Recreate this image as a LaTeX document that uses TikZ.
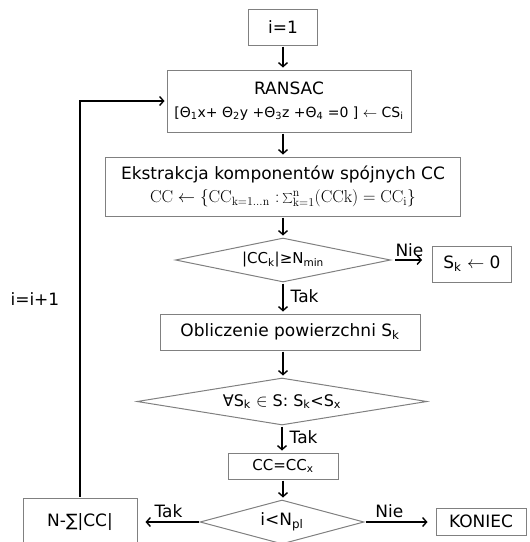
\documentclass[tikz,border=0pt]{standalone}
\usepackage[no-math]{fontspec}
\setmainfont{DejaVu Sans}
\usetikzlibrary{arrows.meta,shapes.geometric}
\tikzset{%
    blo/.style={rectangle, draw=gray, line width=1pt, inner sep=2pt, align=center},
    rom/.style={diamond, draw=gray, line width=1pt, inner sep=0pt},
    pra/.style={line width=1.4pt, -{Straight Barb[length=4pt,width=9pt]}, shorten <=1pt, shorten >=2pt},
    etq/.style={inner sep=2pt},
    mal/.style={font=\fontsize{15}{18}\selectfont}
}

\begin{document}
\begin{tikzpicture}[x=1pt,y=-1pt,font=\fontsize{17}{23}\selectfont]
    \useasboundingbox (0,0) rectangle (530,542);
    % kolumna glowna
    \node[blo,minimum width=69pt,minimum height=36pt] (start) at (283,27) {i=1};
    \node[blo,minimum width=244pt,minimum height=62pt] (ransac) at (289,101)
        {RANSAC\\{\fontsize{14}{18}\selectfont[Θ\textsubscript{1}x+ Θ\textsubscript{2}y +Θ\textsubscript{3}z +Θ\textsubscript{4} =0 ] $\leftarrow$ CS\textsubscript{i}}};
    \node[blo,minimum width=355pt,minimum height=59pt] (ekstr) at (283,186.5)
        {Ekstrakcja komponentów spójnych CC\\
        $\mathrm{CC}\leftarrow\{\mathrm{CC}_{\mathrm{k=1\ldots n}}\ \colon \sum_{\mathrm{k=1}}^{\mathrm{n}}(\mathrm{CCk})=\mathrm{CC}_{\mathrm{i}}\}$};
    \node[rom,mal,aspect=4.9,minimum width=215pt,minimum height=44pt] (war1) at (283,260)
        {|CC\textsubscript{k}|≥N\textsubscript{min}};
    \node[blo,minimum width=79pt,minimum height=36pt] (zero) at (472,264) {S\textsubscript{k} $\leftarrow$ 0};
    \node[blo,minimum width=260pt,minimum height=36pt] (pole) at (290,332) {Obliczenie powierzchni S\textsubscript{k}};
    \node[rom,font=\fontsize{16}{18}\selectfont,aspect=6.2,minimum width=290pt,minimum height=47pt] (war2) at (282,401.5)
        {∀S\textsubscript{k} $\in$ S: S\textsubscript{k}<S\textsubscript{x}};
    \node[blo,mal,minimum width=110pt,minimum height=26pt] (ccx) at (283,466) {CC=CC\textsubscript{x}};
    \node[rom,aspect=3.7,minimum width=164pt,minimum height=44pt] (war3) at (282,522) {i<N\textsubscript{pl}};
    \node[blo,minimum width=114pt,minimum height=48pt] (suma) at (80,522) {N-∑|CC|};
    \node[blo,minimum width=90pt,minimum height=27pt] (koniec) at (481,521.5) {KONIEC};
    % strzalki
    \draw[pra] (start) -- (start |- ransac.north);
    \draw[pra] (ransac.south -| ekstr.north) -- (ekstr);
    \draw[pra] (ekstr) -- (war1);
    \draw[pra,shorten <=4pt,shorten >=10pt] (war1.east) -- (zero.west |- war1.east) node[etq,pos=0.45,above=1pt]{Nie};
    \draw[pra] (war1.south) -- (war1.south |- pole.north) node[etq,pos=0.45,right=5pt]{Tak};
    \draw[pra] (war1.south |- pole.south) -- (war2.north -| war1.south);
    \draw[pra] (war2.south) -- (war2.south |- ccx.north) node[etq,pos=0.45,right=5pt]{Tak};
    \draw[pra] (ccx) -- (ccx |- war3.north);
    \draw[pra,shorten >=8pt] (war3.west) -- (suma.east |- war3.west) node[etq,pos=0.5,above=2pt]{Tak};
    \draw[pra,shorten >=8pt] (war3.east) -- (koniec.west |- war3.east) node[etq,pos=0.35,above=2pt]{Nie};
    \draw[pra] (suma.north) |- (ransac.west) node[etq,pos=0.25,left=18pt]{i=i+1};
\end{tikzpicture}
\end{document}
